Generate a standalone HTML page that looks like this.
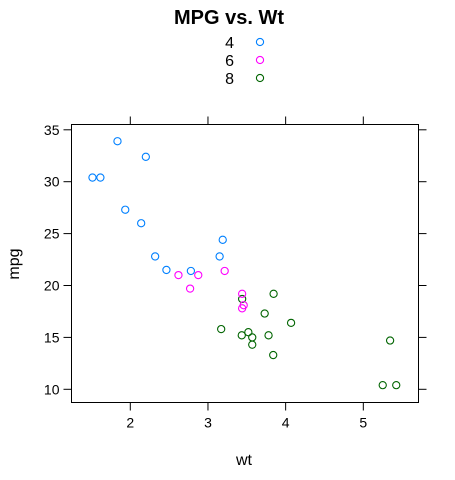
<!DOCTYPE html>
<html><head><meta charset="utf-8"><style>
body{margin:0;background:#fff;width:455px;height:475px;overflow:hidden}
svg text{font-family:"Liberation Sans",Arial,sans-serif}
</style></head><body>
<svg id="chart" width="455" height="475" xmlns="http://www.w3.org/2000/svg">
<text x="229" y="24" text-anchor="middle" font-size="20" font-weight="bold">MPG vs. Wt</text>
<g id="legend"></g>
<rect x="71.5" y="124.5" width="347" height="278" fill="none" stroke="#000" stroke-width="1"/>
<g id="axes"></g>
<g id="points"></g>
<text x="244" y="465" text-anchor="middle" font-size="16">wt</text>
<text transform="translate(19,264) rotate(-90)" text-anchor="middle" font-size="16">mpg</text>
</svg>
<script>
const wt=[2.620,2.875,2.320,3.215,3.440,3.460,3.570,3.190,3.150,3.440,3.440,4.070,3.730,3.780,5.250,5.424,5.345,2.200,1.615,1.835,2.465,3.520,3.435,3.840,3.845,1.935,2.140,1.513,3.170,2.770,3.570,2.780];
const mpg=[21.0,21.0,22.8,21.4,18.7,18.1,14.3,24.4,22.8,19.2,17.8,16.4,17.3,15.2,10.4,10.4,14.7,32.4,30.4,33.9,21.5,15.5,15.2,13.3,19.2,27.3,26.0,30.4,15.8,19.7,15.0,21.4];
const cyl=[6,6,4,6,8,6,8,4,4,6,6,8,8,8,8,8,8,4,4,4,4,8,8,8,8,4,4,4,8,6,8,4];
const groups=[4,6,8];
const xTicks=[2,3,4,5];
const yTicks=[10,15,20,25,30,35];
const colors={4:"#0080ff",6:"#ff00ff",8:"#006400"};
const NS="http://www.w3.org/2000/svg";
const X=v=>130.3+(v-2)*77.67;
const Y=v=>389.3-(v-10)*10.38;
const L=71.5,R=418.5,T=124.5,B=402.5;
function mk(tag,attrs,parent){const e=document.createElementNS(NS,tag);for(const k in attrs)e.setAttribute(k,attrs[k]);parent.appendChild(e);return e;}
const axes=document.getElementById('axes');
xTicks.forEach(t=>{
  const x=X(t);
  const a=mk('line',{x1:x,x2:x,y1:B,y2:B+8,stroke:'#000'},axes);
  
  
  const b=mk('line',{x1:x,x2:x,y1:T,y2:T-8,stroke:'#000'},axes);
  
  
  const tx=mk('text',{x:x,y:B+25,'text-anchor':'middle','font-size':14},axes);
  tx.textContent=t;
  
  
});
yTicks.forEach(t=>{
  const y=Y(t);
  const a=mk('line',{x1:L,x2:L-8,y1:y,y2:y,stroke:'#000'},axes);
  
  
  const b=mk('line',{x1:R,x2:R+8,y1:y,y2:y,stroke:'#000'},axes);
  
  
  const tx=mk('text',{x:L-12,y:y+5,'text-anchor':'end','font-size':14},axes);
  tx.textContent=t;
  
  
});
const pts=document.getElementById('points');
wt.forEach((w,i)=>{
  const c=mk('circle',{cx:X(w),cy:Y(mpg[i]),r:3.6,fill:'none',stroke:colors[cyl[i]],'stroke-width':1.1},pts);
  
  
});
const lg=document.getElementById('legend');
groups.forEach((g,i)=>{
  const y=42+i*18;
  const t=mk('text',{x:234,y:y+6,'text-anchor':'end','font-size':16},lg);
  t.textContent=g;
  
  
  const c=mk('circle',{cx:260,cy:y,r:3.6,fill:'none',stroke:colors[g],'stroke-width':1.1},lg);
  
  
});
</script>
</body></html>
